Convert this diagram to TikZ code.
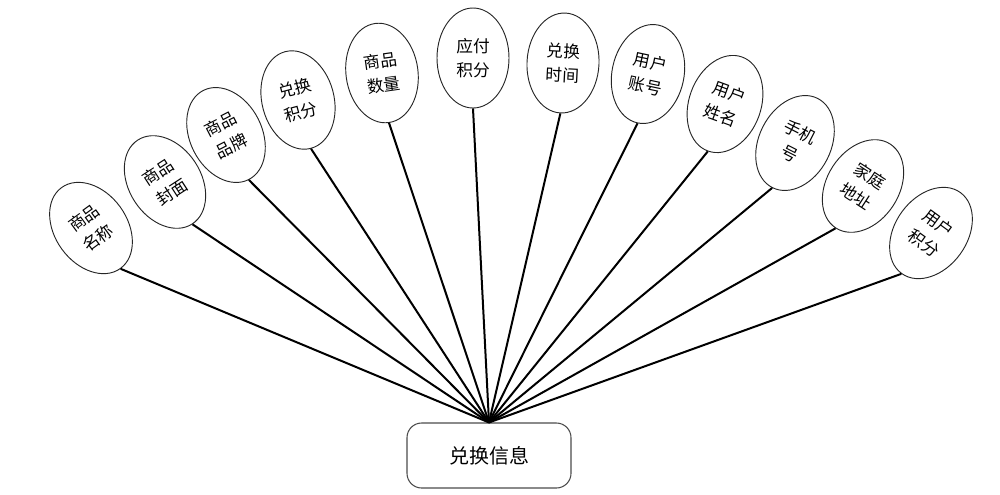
\documentclass[tikz,border=0pt]{standalone}
\usepackage{fontspec}
\newfontfamily\cjk{Noto Sans CJK SC}
\usetikzlibrary{shapes.geometric}
\begin{document}
\begin{tikzpicture}[x=0.75pt,y=-0.75pt,
  attr/.style={draw=black!85, line width=0.7pt, ellipse, minimum width=54pt, minimum height=75pt, inner sep=0pt, align=center, font=\cjk\fontsize{12.5pt}{18.5pt}\selectfont},
  ent/.style={draw=black!70, line width=0.8pt, rounded corners=11pt, minimum width=123pt, minimum height=48.75pt, font=\cjk\fontsize{15pt}{18pt}\selectfont},
  conn/.style={line width=1.5pt, black}]
\useasboundingbox (0,0) rectangle (1000,494);
\node[ent] (box) at (489,455.5) {兑换信息};
\node[attr, rotate=36] (e1) at (91,228) {商品\\名称};
\node[attr, rotate=33] (e2) at (165,182) {商品\\封面};
\node[attr, rotate=27] (e3) at (226,135) {商品\\品牌};
\node[attr, rotate=15] (e4) at (298,100) {兑换\\积分};
\node[attr, rotate=8] (e5) at (382,73) {商品\\数量};
\node[attr, rotate=0] (e6) at (473,58) {应付\\积分};
\node[attr, rotate=-3] (e7) at (563,63) {兑换\\时间};
\node[attr, rotate=-12] (e8) at (648,74) {用户\\账号};
\node[attr, rotate=-20] (e9) at (725,104) {用户\\姓名};
\node[attr, rotate=-27] (e10) at (795,143) {手机\\号};
\node[attr, rotate=-33] (e11) at (863,186) {家庭\\地址};
\node[attr, rotate=-36] (e12) at (931,233) {用户\\积分};
\foreach \i in {1,...,12} {\draw[conn] (box.north) -- (e\i.south);}
\end{tikzpicture}
\end{document}
